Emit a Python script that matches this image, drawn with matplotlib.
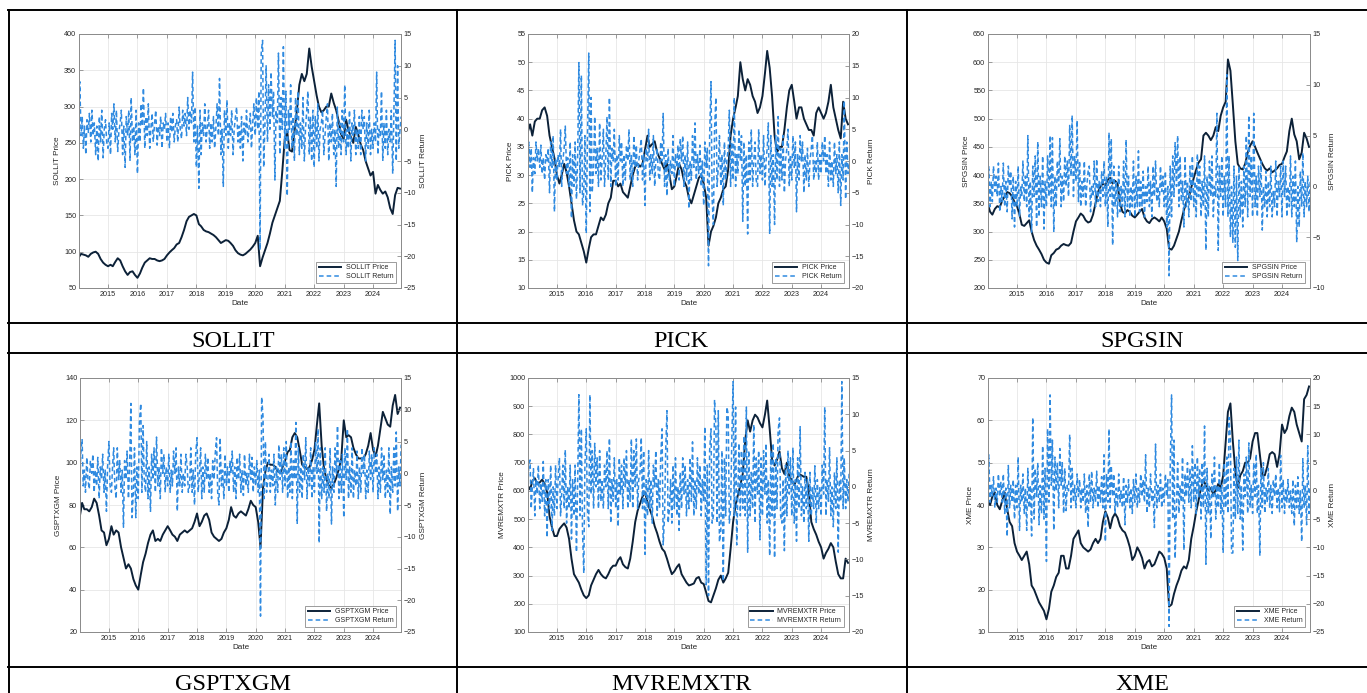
import matplotlib
matplotlib.use('Agg')
import matplotlib.pyplot as plt
import matplotlib.dates as mdates
from matplotlib.lines import Line2D
import pandas as pd

plt.rcParams['font.family'] = ['Liberation Sans', 'DejaVu Sans']
plt.rcParams['axes.unicode_minus'] = True

# ---------------- data (monthly prices, semi-monthly returns) ----------------
sollit_price = [
    92, 97, 96, 95, 93, 97, 99, 100, 97, 90, 85, 82,
    80, 82, 80, 86, 91, 88, 80, 73, 68, 72, 73, 68,
    64, 70, 78, 85, 88, 91, 90, 90, 88, 87, 88, 90,
    95, 99, 102, 105, 110, 112, 120, 130, 142, 148, 150, 152,
    150, 138, 135, 130, 128, 127, 125, 123, 120, 116, 112, 114,
    116, 115, 112, 108, 102, 98, 96, 95, 97, 100, 103, 107,
    112, 122, 80, 92, 102, 112, 125, 140, 150, 160, 170, 210,
    255, 265, 240, 238, 265, 295, 330, 345, 335, 345, 380, 355,
    335, 315, 300, 292, 295, 300, 300, 318, 305, 295, 280, 262,
    255, 282, 268, 258, 250, 272, 262, 248, 240, 225, 215, 205,
    210, 180, 192, 185, 180, 183, 175, 160, 152, 178, 188, 187]
sollit_return = [
    -5, 7.5, -1, 2, -3, 0.5, -4, 1.5, -0.5, 2.5, -2, 3, -1, 1, -4, 0.5, -5, 2, -2, 3, -4.5, 0, 1.5, -2,
    -3, 1, -4, 2.5, 0, 4, -2, 3, -3.5, -0.5, 1, 3, -4, 0.5, -6, 2, -1, 3, -5, 5, -2, 0.5, -4, 3,
    -7, 1, -2, 4, 0.5, 6.5, -3, 2, -1, 4, -3, 0, 2.5, -2, 1, 3, -2.5, 0.5, -1, 2, -3, 1, 0, 2.5,
    -2, 1, -3, 2, -0.5, 2.5, -2, 0.5, 1.5, -2, 3.5, 0, -1.5, 3, 0.5, 2.5, -1, 5, 0, 3, 1, 9, -2, 3.5,
    -6, 0.5, -9.3, 3, -4, 1, -1, 4, -2, 0, 3, -3, 1, -2, 2, -3, 0.5, 4, -1, 8, -4, 0, -9, 3,
    -1, 4.6, -3, 1, -1, 3, -4, 0, 2, 3.5, -2, 0.5, -3, 2, -5, 1, -1, 3, -2, 0, 2.5, -3, 1, 4,
    -1, 5, 0, 6, -19, 12, 14, -6, 1, 10, -2, 7, 0, 9, 2, 6, -8, 3, 1, 12, -4, 5, 0, 13,
    -3, 6, -10.5, 3, 0, 7, -3, 2, -5, 5, -1, 6, -4, 1, -3, 5, -5, 0, 3, 6, -4, 2, -5, 3,
    -6, 2, -3, 4, -5, 0, 1, 3, -4, -1, 2, 4, -5, 1, -2, 2.5, -4, 0, -9, 3.5, -3, 1, -4, 3,
    -2, 7, -4, 0, -3, 3, -5, 1, -1, 3, -4, 0, -3, 2, -4, 3, 0, 2, -5, 1, -3, 3, -4, 0,
    -3, 1, -2, 9, -4, 0, -1, 6, -5, 1, -3, 3, -4, 0, -2, 3, -7, 2, 14, -5, 10, -3, 0, 2]

pick_price = [
    37.5, 39, 37, 39.5, 40, 40, 41.5, 42, 40.5, 37, 35, 33,
    30, 28.5, 30, 32, 30.5, 28, 25, 22, 20, 19.5, 18, 16.5,
    14.5, 17, 19, 19.5, 19.5, 21, 22.5, 22, 23, 25, 26, 29,
    29, 28, 28.5, 27, 26.5, 26, 28, 30, 31.5, 32, 31.5, 32,
    34.5, 37, 35, 35.5, 36, 34, 33, 32, 31, 32, 30, 27.5,
    28, 30, 32, 31, 29, 28, 26, 25, 26.5, 28, 29.5, 30,
    28.5, 26, 17.5, 20, 21, 22.5, 25, 26, 27.5, 28, 31, 37,
    40, 42, 44, 50, 47, 45, 47, 46, 44, 43, 41, 42,
    44, 48, 52, 49, 44, 37, 34, 35, 35, 38, 42, 45,
    46, 43, 40, 42, 42, 40, 39, 38, 38, 37, 41, 42,
    41, 40, 41, 43, 46, 42, 40, 38, 36.5, 43, 40, 39]
pick_return = [
    -5.5, 3, -1, 2, -5, 0.5, -2, 3, 0, 2, -1, 2.5, -2, 0.5, -3, 1, 0, 2, -5, 3, -1, 4, -8, 0.5,
    -3, 1, -1, 5, -4, 0, 2, 5.5, -2, 0.5, -4, 3, -9, 1, -4, 3, -6, 0, 15.5, -5, 13.5, -7, -5, 4,
    -11.4, 3, 17, -8, 10, -5, -1, 7, -2, 2, -4, 6, -3, 0, 5, -4, 1, 7, -3, 10, -4, 2, 0, 5,
    -4, 1, -3, 4, 0, 3, -4, 1, -3, 2.5, 0, 5, -3, 1, -4, 4, -1, 2.5, -3, 0, 2, 3.5, -3, 1,
    -7, 2, 0, 5, -3, 1, -2, 4, -4, 0, 2, -2, -3, 3, 0, 7.5, -4, 1, -5.5, 2, -3, 0, -2, 4,
    -4, 1, -1, 2.5, -3, 3.5, 0, 4, -4, 1, -3, 3, -7.5, 0, -3, 4, -1, 6, -3, 1, -2, 2.5, -4, 0,
    -7, 3, -1, 2, -16.5, 4, 12.5, -6, -10, 5, 10, -4, -1, 4, -4, 1, -7, 3, -3, 0, 2, 8, -4, 3,
    -3, 10, -4, 1, -2, 5, 0, 4, -9.5, 3, -4, 1, -11.5, 3, -3, 5, -4, 0, 3, -3, -4, 5, -2, 1,
    -3, 4, -4, 0, 2, 6, -11.5, 4, -4, 1, -10, 4, -3, 7, -4, 2, -3, 4, -5, 0, 2, 5, -4, 1,
    -3, 4, -1, 3, -8, 1, -3, 4, 0, 3, -5, 1, -3, 2, -4, 0, 2, 4, -3, 0, -2, 3, -3, 1,
    -2, 3, 0, 4, -2, 1, -4, 3, -3, 0, -4, 3, -2, 1, -5, 3, -7, 1, -3, 9.5, -6, 3, -2, 0]

spgsin_price = [
    350, 335, 330, 340, 345, 343, 355, 362, 370, 368, 362, 352,
    345, 330, 312, 310, 315, 320, 300, 285, 275, 268, 260, 250,
    245, 243, 258, 262, 268, 270, 275, 278, 276, 275, 280, 300,
    318, 325, 332, 328, 320, 316, 318, 330, 350, 370, 380, 385,
    382, 392, 395, 385, 390, 385, 350, 335, 332, 338, 335, 328,
    325, 330, 335, 340, 325, 318, 315, 322, 325, 322, 318, 325,
    318, 305, 270, 268, 275, 288, 300, 320, 338, 352, 360, 378,
    395, 410, 422, 428, 470, 475, 470, 462, 470, 485, 478, 505,
    520, 530, 605, 585, 525, 460, 420, 412, 410, 420, 440, 452,
    460, 450, 440, 430, 420, 412, 408, 412, 405, 408, 412, 418,
    420, 432, 442, 478, 500, 472, 460, 428, 440, 475, 465, 450]
spgsin_return = [
    -1, 2, -2, 0.5, -1.5, 2, -0.5, 1, -1, 2.3, -2.5, 0, -1.5, 2.3, -2, 0.5, -2.5, 2, 0, 1.5, -3.2, 1, -4, 0.5,
    -2, 2, -3, 0, -1, 2.5, -1.5, 1, -2, 5, -3, 0.5, -4.5, 2, -1, 3, -4, 4.4, -3, 1, -2, 3, -4.2, 0.5,
    -2, 3, -1, 5, -2, 4.8, -4.5, 1, -2, 2.5, 0, 4.7, -2, 1, -1.5, 3, 0, 2.5, -1, 6, 1, 7, -1, 3,
    0.5, 6.5, -1.5, 2.5, -2, 0.5, -1, 2.5, -2, 0, 1.5, 2, -2.5, 0, -1, 2.5, -2, 2.7, -1.5, 0.5, -2, 1.5, -1, 2.5,
    -2, 1, -4, 5.3, -1, 4.7, -5.8, 2, -2, 0.5, -3, 2, -2.5, 0, -2, 2.5, -3, 4.6, -2, 1, -3, 0, -2, 2.5,
    -3, 1, -2, 3.5, -2.5, 0.5, -2, 1.5, -3, 0, -1.5, 2, -2, 0.5, -3, 2, -1, 2.5, -1.5, 0, -2, 2, -0.5, 1,
    -2, 1.5, -4, 0, -8.8, 2, -3, 3, -1, 4.3, 0, 5, -2, 3, -1.5, 0.5, -4, 3, -2, 0.5, -3, 2, -1.5, 3,
    -2, 0.5, -3, 3.2, -1, 2, -3, 0.5, -2, 3, -6.3, 1, -3, 2.5, -1, 3, -3, 0, -1, 7.2, -6.3, 2, -1, 3,
    -3, 1, -2, 11, -3, 3, -5, 0, -5.5, 2, -6, 1, -7.3, 2, -3, 0.5, -4, 2, -2, 5, -3, 7, -1, 3,
    -3, 7.2, -2, 1, -3, 2, -1, 2.5, -4.3, 0, -2, 1.5, -3, 0.5, -2, 2, -3, -0.5, -2, 2.5, -3, 0.5, -1, 2,
    -3, 2.5, -1, 2, -3, 0, -2, 3, -3, 1, -2, 2.5, -5.5, 0, -4, 1.5, -2, 3.3, -3, 0.5, -2, 1, -2.5, 0.5]

gsptxgm_price = [
    74, 81, 78, 78, 77, 79, 83, 81, 75, 68, 67, 61,
    64, 70, 66, 68, 67, 60, 55, 50, 52, 50, 45, 42,
    40, 47, 53, 57, 62, 66, 68, 63, 64, 63, 66, 68,
    70, 68, 66, 65, 63, 66, 67, 68, 67, 68, 69, 72,
    76, 70, 72, 75, 76, 73, 67, 65, 64, 63, 64, 67,
    69, 73, 79, 75, 74, 76, 77, 76, 75, 78, 82, 80,
    79, 72, 60, 88, 96, 100, 99, 99, 98, 96, 95, 98,
    101, 105, 106, 112, 114, 112, 106, 99, 98, 97, 98, 101,
    106, 118, 128, 108, 97, 92, 89, 88, 90, 93, 97, 102,
    120, 112, 113, 112, 107, 104, 102, 102, 102, 104, 108, 114,
    106, 103, 108, 116, 124, 121, 118, 117, 127, 132, 123, 126]
gsptxgm_return = [
    -3, 3, 5.4, -2, 0.5, -3, 2.5, -1, -2.5, 2, 0, 3, -3, 0.5, -2, 2.5, -4, 1, -1, 3, -3, 0.5, -6, 1,
    5, -2, -3, 1, 4, -2, -4, 4, -1, 2, -3, 0.5, -8.5, 2, -1, 3.5, -4, 1, 11, -7, -3, 4, -7, 1,
    -4, 8, 11, -3, 7.5, -1, -3, 5, -4, 1, -6, 3, -1, 4, -3, 5.7, -2, 1, -4, 4, 0, 3, -3, 1,
    -2, 3, -3, 0.5, -2, 3.5, 0, 4, -6, 1, -2, 3, -3, 0, -2, 3, 1, -3, -2, 4, -3, 0.5, -5, 3,
    5.6, -3, 0, 4, -4, 1, -3, 3, -1, 2.5, -3, 0, -4, 2, -1, 3, 5.6, -3, -5, 5.6, -2, 0.5, -4, 3,
    -2, 1, -3, 2, 0, 3.5, -3, 1, -4, 2.5, -1, 3, -3, 0.5, -3.5, 3, -2, 0, -3, 3, -1, 2.5, -3, 1,
    -2, 2, -3, 0.5, -22.5, 12, 9, -4, 5, -3, -1, 3, -3, 0.5, -2, 3, -5, 1, -3, 4.5, -1, 3, -3, 4,
    -2, 5, -4, 1, -3, 5, -4, 2, -1, 8, -8, 4, -3, 1, -4, 3, -1, 5.6, -4, 1, -2, 4, -4, 1,
    -3, 5, 0, 7, -11, 4, -4, 1, -3, 4, -6, 0, -4, 4, -8, 1, -3, 4, 0, 7.5, -4, 2, -3, 3,
    -7, 4, -1, 7, -4, 1, -3, 4, -4, 0.5, -2, 3.5, -4, 1, -3, 4, 0, 3, -4, 0.5, -3, 3.5, -1, 3,
    -3, 4, 0, 3, -4, 1, -3, 4, -1, 3, -4, 0.5, -3, 4, -6.5, 1, -3, 4, -2, 6.5, -6, 1, -2, 4.5]

mvremxtr_price = [
    620, 605, 635, 645, 625, 630, 640, 625, 595, 510, 470, 440,
    440, 465, 475, 485, 470, 430, 360, 305, 290, 275, 250, 230,
    220, 230, 265, 285, 305, 320, 305, 295, 290, 305, 325, 335,
    335, 355, 365, 340, 330, 325, 360, 420, 490, 530, 555, 580,
    595, 560, 535, 510, 475, 450, 420, 395, 385, 360, 330, 305,
    315, 330, 340, 305, 290, 275, 265, 268, 272, 290, 295, 275,
    270, 240, 210, 205, 230, 255, 285, 300, 275, 290, 310, 395,
    490, 550, 585, 620, 660, 780, 850, 810, 850, 870, 860, 840,
    825, 870, 920, 820, 710, 690, 710, 740, 680, 660, 700, 650,
    640, 620, 640, 660, 655, 650, 650, 600, 490, 465, 445, 420,
    400, 360, 380, 395, 415, 400, 350, 305, 290, 290, 360, 345]
mvremxtr_return = [
    -2, 3, 3.7, -3, 0, 2.5, -4, 1, -1, 3, -3, 0.5, -2, 3.5, -4, 1, -7, 1, -3, 3, -6, 0, -4, 3,
    -3, 1, 4, -4, -1, 3, -3, 5.1, -5, 0, -3, 3, -7.2, 1, -4, 3, -9, 0, 12.7, -4, 8, -6, -11.9, 3,
    8, -3, -5.5, 12.7, -1, 5, -3, 6, 0, 4, -3, 5, -2, 1, -3, 3, 0, 5, -3, 6.7, -5, 1, -2, 4,
    -3, 1, -5.5, 4, -1, 3, -3, 4, 0, 5, -3, 1, -2, 6.6, -3, 5, 0, 6.6, -3, 1, 2, 6.8, -3, 5,
    -9.3, 1, -4, 5, -3, 1, -5, 3, 0, 5, -4, 1, -3, 4, 8, -8, -4, 5, 10.5, -5, -3, 1, -5, 3,
    -3, 4, -4, 0, -6, 2, -3, 4, -1, 3, -4, 1, -3, 4, -2, 6.2, -4, 1, -3, 4, -1, 3, -4, 1,
    -2, 8.3, -13.5, 3, -15, 5, 8, -5, -4, 12, 8.3, -5, 10.5, -7.6, -6, 5, -13, 4, -4, 11, 10, -5, -3, 6,
    14.5, -4, 11, -8, -1, 6, -4, 5, -3, 7, -4, 11, -9, 5, -4, 2, -3, 8.6, -5, 4, -1, 5, -7.3, 4,
    -4, 5, -1, 6, -5, 1, -9.5, 5, -4, 6, -9.8, 4, -3, 7.7, 9.5, -4, -5, 1, -8.8, 3, -4, 5, -1, 4,
    -4, 5.4, -5, 1, -7.5, 4, -3, 8.3, -4, 0, -5, 2, -3, 1, -7.5, 2, -4, 0, -3, 2.9, -5, 1, -3, 0,
    -4, 3, -1, 11, -4, 1, -2, 5.4, -4, 0, -5.5, 2, -3, 4, -9, 1, -2, 14.5, -3, 4, -3, 1, -2, 2]

xme_price = [
    41, 40, 42, 43, 40, 39, 41, 43, 39, 36, 35, 31,
    29, 28, 27, 28, 29, 26, 21, 20, 18.5, 17, 16, 15,
    13, 15.5, 19.5, 21, 23, 24, 28, 28, 25, 25, 28, 32,
    33, 34, 31, 30, 29.5, 29, 29.5, 31, 32, 31, 32, 36,
    38.5, 37, 34.5, 37, 38, 37, 35, 34, 33.5, 32, 30, 27,
    28, 30, 29, 27.5, 25, 26.5, 27, 25.5, 26, 27.5, 29, 28.5,
    27.5, 25, 16, 16.5, 19, 21, 22.5, 24.5, 25.5, 25, 27, 32,
    35, 38.5, 41, 44, 46, 44.5, 43.5, 44, 42.5, 43.5, 45, 44,
    47, 55, 62, 64, 55, 48, 44, 47, 48, 50, 50, 51,
    55, 57, 57, 52, 47, 47, 49, 52, 52.5, 52, 49, 52,
    59, 57, 58, 61, 63, 62, 59, 57, 55, 65, 66, 68]
xme_return = [
    -4.5, 6.4, -2, 1, -1, 2.5, -3, 0.5, -2, 3, -1, 1.5, -2, 3, -4, 0.5, -8.1, 4.5, -3, 1, -2, 2, -5, 1,
    -3, 6, -7, 1, -2, 3, -4, 0.5, -7, 4, -3, 1, -8, 13, -5, 4, -1, 5, -6, 1, -4, 8, -5, 4,
    -12.5, 11, -2, 17, 1, 9, -7, 6, 0, 5, -3, 7.5, 1, 5, -4, 4, -3.5, 1, 0, 10, -3, 4, -2, 1,
    -3, 3, -1, 2, -3, 0.5, -2, 3, -4, 1, -6.5, 3, -2, 3.5, -3, 0.5, -2, 3.5, -3, 1, -2, 2.5, -3, 6.4,
    -9, 3, -2, 11, -3, 4.5, -1, 3, -4, 0.5, -3, 3, -2, 0, -3, 2.5, -6, 1, -2, 2, -3, 0.5, -4, 2,
    -2, 3, -3, 0.5, -2, 3, -1, 2, -2, 6.4, -4, 0.5, -3, 3, -2, 0, -6.5, 8.3, -3, 1, -2, 3, -3, 0.5,
    -2, 3, -1, 2, -24, 4, 17, -5, 9, -12, -3, 5, -4, 1, -2, 6, -10.5, 3, -1, 5, -2, 4, -3, 8,
    -2, 5, -4, 6, -1, 4, -5, 5, -3, 11.5, -13, 4, -4, 1, -8.5, 3, -1, 6, -5, 1, -3, 5, -4, 1,
    -11, 5, -3, 6, -4, 13, 9, -11, -11, 4, -5, 6, -4, 9, -5, 1, -10.5, 3, -1, 6, -4, 8.5, -3, 1,
    -4, 5, -1, 6.5, -4, 1, -11.5, 4, -3, 5, -4, 0.5, -2, 4, -3, 1, -4, 2, -1, 3, -3, 0.5, -3.7, 6.3,
    -3, 2, -4, 0.5, -2, 2, -3, 0, -4, 2, -6.2, 1, -3, 2.5, -4, 0, -9, 5.7, -3, 1, -6, 8, -4, 1]

names = ['SOLLIT', 'PICK', 'SPGSIN', 'GSPTXGM', 'MVREMXTR', 'XME']
prices = [sollit_price, pick_price, spgsin_price, gsptxgm_price, mvremxtr_price, xme_price]
returns = [sollit_return, pick_return, spgsin_return, gsptxgm_return, mvremxtr_return, xme_return]
price_ylims = [(50, 400, 50), (10, 55, 5), (200, 650, 50), (20, 140, 20), (100, 1000, 100), (10, 70, 10)]
return_ylims = [(-25, 15, 5), (-20, 20, 5), (-10, 15, 5), (-25, 15, 5), (-20, 15, 5), (-25, 20, 5)]
year_ticks = list(range(2015, 2025))

# ---------------- layout ----------------
W, H = 1367, 693
fig = plt.figure(figsize=(W / 100, H / 100), dpi=100)

# axes boxes in pixel coords: (x0, x1, y0, y1)
boxes = [(79, 401, 34, 288), (528, 849, 34, 288), (988, 1310, 34, 288),
         (80, 401, 378, 632), (528, 849, 378, 632), (988, 1310, 378, 632)]
label_pos = [(233, 347), (681, 347), (1142, 347), (233, 690), (681, 690), (1142, 690)]

PRICE_C = '#0c2138'
RET_C = '#2f8ae0'
SPINE_C = '#8c8c8c'
TXT_C = '#262626'
xmin, xmax = pd.Timestamp('2014-01-06'), pd.Timestamp('2024-12-13')

for i, name in enumerate(names):
    x0, x1, y0, y1 = boxes[i]
    ax = fig.add_axes([x0 / W, 1 - y1 / H, (x1 - x0) / W, (y1 - y0) / H])
    pdates = pd.date_range('2014-01-01', periods=len(prices[i]), freq='MS')
    rdates = pd.date_range('2014-01-01', periods=len(returns[i]), freq='SMS')
    l1, = ax.plot(pdates, prices[i], color=PRICE_C, lw=1.4, solid_joinstyle='round',
                  label=f'{name} Price', zorder=3)
    lo, hi, st = price_ylims[i]
    ax.set_ylim(lo, hi)
    ax.set_yticks(list(range(lo, hi + 1, st)))
    ax.set_xlim(xmin, xmax)
    ax.set_xticks([pd.Timestamp(f'{y}-01-01') for y in year_ticks])
    ax.xaxis.set_major_formatter(mdates.DateFormatter('%Y'))
    ax.grid(True, color='#e6e6e6', lw=0.6)
    ax.set_axisbelow(True)
    ax.tick_params(axis='both', direction='in', length=3, width=0.6, color=SPINE_C,
                   labelsize=5.2, labelcolor=TXT_C, pad=2)
    ax.tick_params(axis='x', top=True)
    for s in ax.spines.values():
        s.set_color(SPINE_C)
        s.set_linewidth(0.7)
    ax.set_xlabel('Date', fontsize=5.9, color=TXT_C, labelpad=1.5)
    ax.set_ylabel(f'{name} Price', fontsize=5.9, color=TXT_C, labelpad=2)

    ax2 = ax.twinx()
    l2, = ax2.plot(rdates, returns[i], color=RET_C, lw=1.1, dashes=(3, 2),
                   label=f'{name} Return')
    rlo, rhi, rst = return_ylims[i]
    ax2.set_ylim(rlo, rhi)
    ax2.set_yticks(list(range(rlo, rhi + 1, rst)))
    ax2.set_xlim(xmin, xmax)
    ax2.tick_params(axis='y', direction='in', length=3, width=0.6, color=SPINE_C,
                    labelsize=5.2, labelcolor=TXT_C, pad=2)
    for s in ax2.spines.values():
        s.set_color(SPINE_C)
        s.set_linewidth(0.7)
    ax2.set_ylabel(f'{name} Return', fontsize=5.9, color=TXT_C, labelpad=3)

    leg = ax2.legend(handles=[l1, l2], loc='lower right', fontsize=5,
                     frameon=True, fancybox=False, edgecolor=SPINE_C, framealpha=1,
                     borderaxespad=0.7, handlelength=3.2, borderpad=0.4,
                     labelspacing=0.3, handletextpad=0.7)
    leg.get_frame().set_linewidth(0.6)
    for t in leg.get_texts():
        t.set_color(TXT_C)

    lx, ly = label_pos[i]
    fig.text(lx / W, 1 - ly / H, name, ha='center', va='baseline', fontsize=17.5,
             family=['Liberation Serif', 'DejaVu Serif'], color='black')

# ---------------- table borders ----------------
def hline(y, xa=8, xb=W):
    fig.add_artist(Line2D([xa / W, xb / W], [1 - y / H, 1 - y / H],
                          transform=fig.transFigure, color='black', lw=1.4))

def vline(x, ya=10, yb=H):
    fig.add_artist(Line2D([x / W, x / W], [1 - ya / H, 1 - yb / H],
                          transform=fig.transFigure, color='black', lw=1.4))

for y in (10, 323, 353.5, 667):
    hline(y)
for x in (8.5, 457, 906.5):
    vline(x)

fig.savefig('out.png', dpi=100)
